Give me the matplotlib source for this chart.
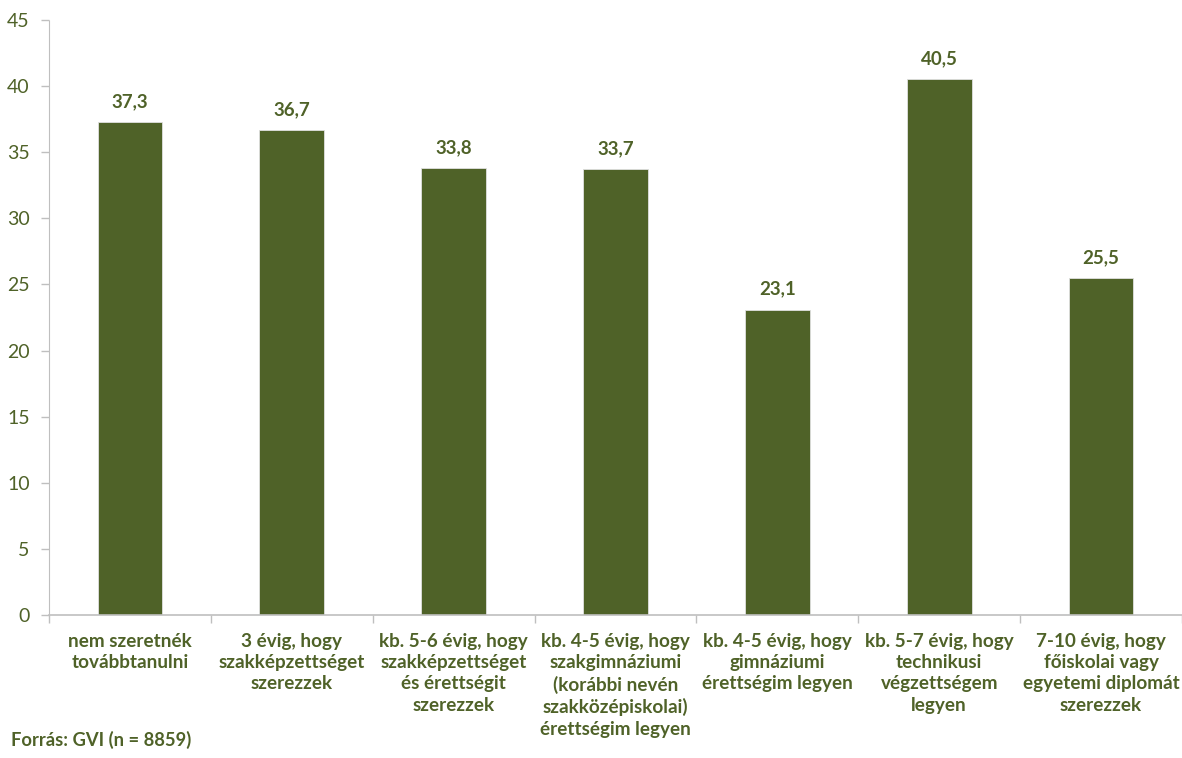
import matplotlib
matplotlib.use('Agg')
import matplotlib.pyplot as plt
import numpy as np

# Data
categories = [
    'nem szeretnék\ntovábbtanulni',
    '3 évig, hogy\nszakképzettséget\nszerezzek',
    'kb. 5-6 évig, hogy\nszakképzettséget\nés érettségit\nszerezzek',
    'kb. 4-5 évig, hogy\nszakgimnáziumi\n(korábbi nevén\nszakközépiskolai)\nérettségim legyen',
    'kb. 4-5 évig, hogy\ngimnáziumi\nérettségim legyen',
    'kb. 5-7 évig, hogy\ntechnikusi\nvégzettségem\nlegyen',
    '7-10 évig, hogy\nfőiskolai vagy\negyetemi diplomát\nszerezzek',
]
values = [37.3, 36.7, 33.8, 33.7, 23.1, 40.5, 25.5]
yticks = [0, 5, 10, 15, 20, 25, 30, 35, 40, 45]

green = '#4F6228'
axis_gray = '#BFBFBF'
plt.rcParams['font.family'] = ['Lato', 'DejaVu Sans']

fig = plt.figure(figsize=(11.82, 7.58), dpi=100)
ax = fig.add_axes([0.0415, 0.1887, 0.9585, 0.785])

x = np.arange(len(values))
ax.bar(x, values, width=0.4, color=green, edgecolor='#E0E0E0', linewidth=0.6)

# value labels
for xi, v in zip(x, values):
    ax.text(xi, v + 0.9, f'{v:.1f}'.replace('.', ','), ha='center', va='bottom',
            fontsize=13.5, fontweight='bold', color=green)

ax.set_xlim(-0.5, len(values) - 0.5)
ax.set_ylim(0, 45)
ax.set_yticks(yticks)
ax.set_yticklabels([str(t) for t in yticks], fontsize=14, color=green)

# category labels (centered, below the axis)
ax.set_xticks(x)
ax.set_xticklabels(categories, fontsize=13.6, fontweight='bold', color=green,
                   linespacing=1.3, va='top')
ax.tick_params(axis='x', length=0, pad=13)
# boundary ticks between categories
ax.set_xticks(np.arange(len(values) + 1) - 0.5, minor=True)
ax.tick_params(axis='x', which='minor', length=6, color=axis_gray, width=1)
ax.tick_params(axis='y', length=6, color=axis_gray, width=1, pad=8)

for s in ['top', 'right']:
    ax.spines[s].set_visible(False)
ax.spines['left'].set_color(axis_gray)
ax.spines['left'].set_linestyle((0, (1, 1)))
ax.spines['bottom'].set_color(axis_gray)
ax.spines['bottom'].set_linewidth(1.2)

fig.text(0.009, 0.012, 'Forrás: GVI (n = 8859)', fontsize=13.2, fontweight='bold',
         color=green, ha='left', va='bottom')

fig.savefig('out.png', dpi=100)
